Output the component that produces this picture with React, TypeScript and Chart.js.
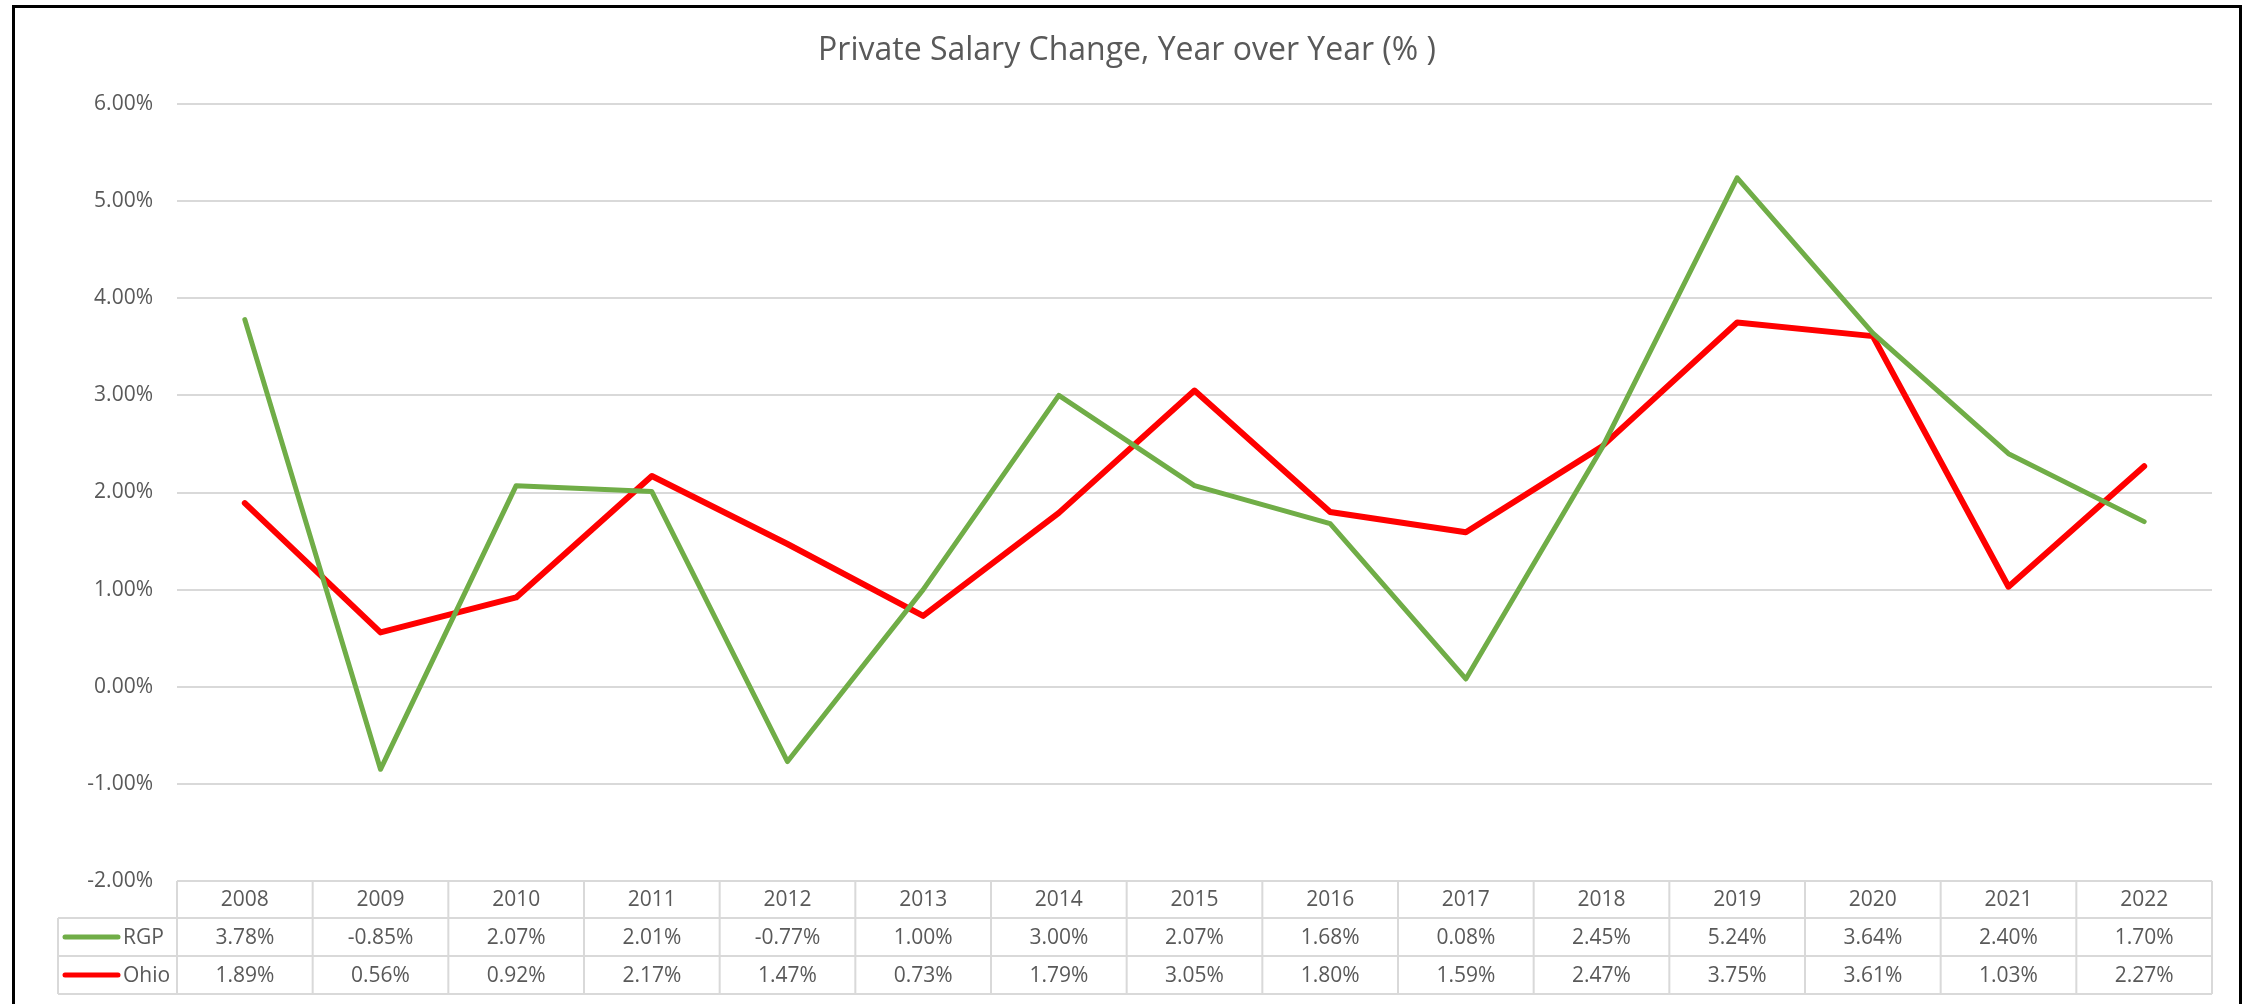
import { useEffect, useRef } from "react";
import { Chart, registerables } from "chart.js";

Chart.register(...registerables);

const chartTitle = "Private Salary Change, Year over Year (% )";
const years = ["2008", "2009", "2010", "2011", "2012", "2013", "2014", "2015", "2016", "2017", "2018", "2019", "2020", "2021", "2022"];
const seriesNames = ["RGP", "Ohio"];
const rgpValues = [3.78, -0.85, 2.07, 2.01, -0.77, 1.0, 3.0, 2.07, 1.68, 0.08, 2.45, 5.24, 3.64, 2.4, 1.7];
const ohioValues = [1.89, 0.56, 0.92, 2.17, 1.47, 0.73, 1.79, 3.05, 1.8, 1.59, 2.47, 3.75, 3.61, 1.03, 2.27];
const seriesColors = ["#70AD47", "#FF0000"];
const yMin = -2;
const yMax = 6;
const yStep = 1;

const FONT = "'Open Sans', sans-serif";
const TEXT = "#595959";
const GRID = "#d9d9d9";

const fmt = (v: number) => v.toFixed(2) + "%";

const decorPlugin = {
  id: "decor",
  afterDraw(chart: any) {
    const ctx = chart.ctx as CanvasRenderingContext2D;
    const { left, right, bottom } = chart.chartArea;
    const xs = chart.scales.x;
    const n = years.length;
    const w = (right - left) / n;
    const rows = [bottom, bottom + 37, bottom + 75, bottom + 113];
    const labelLeft = 58;
    ctx.save();
    // table lines
    ctx.strokeStyle = GRID;
    ctx.lineWidth = 2;
    ctx.beginPath();
    ctx.moveTo(left, rows[0]);
    ctx.lineTo(right, rows[0]);
    for (let r = 1; r < rows.length; r++) {
      ctx.moveTo(labelLeft, rows[r]);
      ctx.lineTo(right, rows[r]);
    }
    ctx.moveTo(labelLeft, rows[1]);
    ctx.lineTo(labelLeft, rows[3]);
    for (let i = 0; i <= n; i++) {
      const x = i < n ? xs.getPixelForValue(i) - w / 2 : xs.getPixelForValue(n - 1) + w / 2;
      ctx.moveTo(x, rows[0]);
      ctx.lineTo(x, rows[3]);
    }
    ctx.stroke();

    // table texts
    ctx.fillStyle = TEXT;
    ctx.font = `21px ${FONT}`;
    ctx.textAlign = "center";
    ctx.textBaseline = "middle";
    const allValues = [rgpValues, ohioValues];
    for (let i = 0; i < n; i++) {
      const x = xs.getPixelForValue(i);
      ctx.fillText(years[i], x, (rows[0] + rows[1]) / 2 + 1);
      for (let s = 0; s < 2; s++) {
        ctx.fillText(fmt(allValues[s][i]), x, (rows[s + 1] + rows[s + 2]) / 2 + 1);
      }
    }
    // legend keys
    for (let s = 0; s < 2; s++) {
      const y = (rows[s + 1] + rows[s + 2]) / 2;
      ctx.strokeStyle = seriesColors[s];
      ctx.lineWidth = 5;
      ctx.lineCap = "round";
      ctx.beginPath();
      ctx.moveTo(65, y);
      ctx.lineTo(118, y);
      ctx.stroke();
      ctx.textAlign = "left";
      ctx.fillText(seriesNames[s], 123, y + 1);
    }

    // title
    ctx.font = `32px ${FONT}`;
    ctx.textAlign = "center";
    ctx.textBaseline = "alphabetic";
    ctx.fillText(chartTitle, 1127, 60);

    // outer border
    ctx.strokeStyle = "#000";
    ctx.lineWidth = 3;
    ctx.lineCap = "butt";
    ctx.strokeRect(13.5, 6.5, 2227, 1020);
    ctx.restore();
  },
};

export default function App() {
  const ref = useRef<HTMLCanvasElement>(null);
  useEffect(() => {
    if (!ref.current) return;
    const chart = new Chart(ref.current, {
      type: "line",
      data: {
        labels: years,
        datasets: [
          {
            label: seriesNames[0],
            data: rgpValues,
            borderColor: seriesColors[0],
            backgroundColor: seriesColors[0],
            borderWidth: 5,
            pointRadius: 0,
            tension: 0,
            borderJoinStyle: "round",
            borderCapStyle: "round",
          },
          {
            label: seriesNames[1],
            data: ohioValues,
            borderColor: seriesColors[1],
            backgroundColor: seriesColors[1],
            borderWidth: 6,
            pointRadius: 0,
            tension: 0,
            borderJoinStyle: "round",
            borderCapStyle: "round",
          },
        ],
      },
      options: {
        animation: false,
        responsive: false,
        devicePixelRatio: 1,
        layout: { padding: { left: 0, top: 104, right: 40, bottom: 123 } },
        plugins: { legend: { display: false }, title: { display: false }, tooltip: { enabled: false } },
        scales: {
          x: { type: "category", display: false, offset: true },
          y: {
            min: yMin,
            max: yMax,
            border: { display: false },
            grid: { color: GRID, lineWidth: 2, drawTicks: false },
            ticks: {
              stepSize: yStep,
              padding: 24,
              color: TEXT,
              font: { family: FONT, size: 21 },
              callback: (v: any) => fmt(Number(v)),
            },
            afterFit: (scale: any) => {
              scale.width = 177;
            },
          },
        },
      },
      plugins: [decorPlugin],
    });
    return () => chart.destroy();
  }, []);
  return (
    <div style={{ position: "fixed", left: 0, top: 0, width: 2252, height: 1004, background: "#fff" }}>
      <canvas ref={ref} width={2252} height={1004} style={{ display: "block" }} />
    </div>
  );
}
